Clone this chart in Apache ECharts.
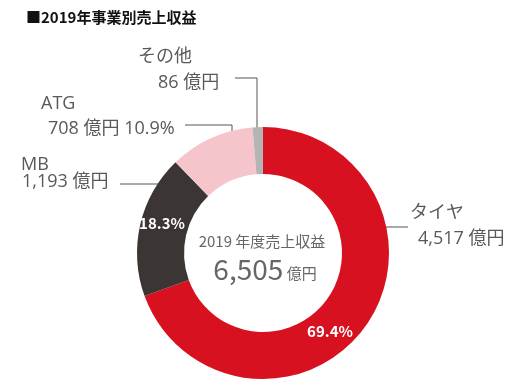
<!DOCTYPE html>
<html>
<head>
<meta charset="utf-8">
<script src="https://cdn.jsdelivr.net/npm/echarts@6/dist/echarts.min.js"></script>
<style>
html,body{margin:0;padding:0;background:#fff;}
#chart{width:523px;height:390px;}
</style>
</head>
<body>
<div id="chart"></div>
<script>
// ---- data ----
var categories = ['タイヤ', 'MB', 'ATG', 'その他'];
var values = [4517, 1193, 708, 86];
var showPercentOutside = [false, false, true, false];
var showPercentInside = [true, true, false, false];
var titleText = '■2019年事業別売上収益';
var centerCaption = '2019 年度売上収益';
var centerTotal = '6,505';
var unitText = '億円';

// ---- styles / layout ----
var colors = ['#D7111F', '#3B3634', '#F6C4CB', '#B5B5B5'];
var FONT = '"Noto Sans CJK JP", "Noto Sans", sans-serif';
var LABEL_FONT = '"Open Sans", "Noto Sans CJK JP", sans-serif';
var textGray = '#595959';
var center = [263, 253];
var radius = [79, 126];

var total = values.reduce(function (a, b) { return a + b; }, 0);
function pct(v) { return (v / total * 100).toFixed(1) + '%'; }
function fmtNum(v) { return v.toLocaleString('en-US'); }

// outside label layouts: x, y (top-left of label block), line height, 2nd line indent, label line
var outLayout = [
  { x: 410, y: 200, lh: 26, pad: 8, line: [[363, 227], [385, 227], [408, 227]] },
  { x: 21, y: 156, lh: 17, pad: 1, line: [[158, 184], [140, 184], [120, 184]] },
  { x: 41, y: 91, lh: 25, pad: 7, line: [[232, 140], [232, 125], [185, 125]] },
  { x: 138, y: 44, lh: 26, pad: 20, line: [[257, 130], [257, 78], [235, 78]] }
];
var inLayout = [
  { x: 330, y: 331 },
  { x: 162, y: 223 }
];

var outerData = categories.map(function (c, i) {
  var L = outLayout[i];
  var second = fmtNum(values[i]) + ' ' + unitText + (showPercentOutside[i] ? ' ' + pct(values[i]) : '');
  return {
    name: c,
    value: values[i],
    itemStyle: { color: colors[i] },
    label: {
      formatter: '{a|' + c + '}\n{b|' + second + '}',
      rich: {
        a: { fontSize: 18, fontFamily: LABEL_FONT, color: textGray, lineHeight: L.lh },
        b: { fontSize: 18, fontFamily: LABEL_FONT, color: textGray, lineHeight: L.lh, padding: [0, 0, 0, L.pad] }
      }
    }
  };
});

var innerData = categories.map(function (c, i) {
  return {
    name: c,
    value: values[i],
    label: { show: showPercentInside[i], formatter: pct(values[i]) }
  };
});

var chart = echarts.init(document.getElementById('chart'), null, { renderer: 'canvas' });
chart.setOption({
  animation: false,
  backgroundColor: '#fff',
  title: {
    text: titleText,
    left: 21,
    top: 5,
    textStyle: { fontSize: 15, fontWeight: 'bold', color: '#111', fontFamily: FONT }
  },
  graphic: [
    {
      type: 'text',
      x: 262, y: 241,
      style: {
        text: centerCaption,
        font: '15px ' + FONT,
        fill: '#666',
        align: 'center',
        verticalAlign: 'middle'
      }
    },
    {
      type: 'text',
      x: 265, y: 269,
      style: {
        text: '{big|' + centerTotal + '}{unit| ' + unitText + '}',
        align: 'center',
        verticalAlign: 'middle',
        rich: {
          big: { fontSize: 28, fontFamily: FONT, fill: '#666', color: '#666' },
          unit: { fontSize: 15, fontFamily: FONT, fill: '#666', color: '#666', padding: [8, 0, 0, 0] }
        }
      }
    }
  ],
  series: [
    {
      type: 'pie',
      center: center,
      radius: radius,
      startAngle: 90,
      clockwise: true,
      avoidLabelOverlap: false,
      silent: true,
      emphasis: { disabled: true },
      label: { show: true, position: 'outside' },
      labelLine: { show: true, lineStyle: { color: '#555', width: 1 } },
      labelLayout: function (p) {
        var L = outLayout[p.dataIndex];
        return {
          x: L.x, y: L.y,
          align: 'left', verticalAlign: 'top',
          labelLinePoints: L.line
        };
      },
      data: outerData
    },
    {
      type: 'pie',
      center: center,
      radius: radius,
      startAngle: 90,
      clockwise: true,
      silent: true,
      emphasis: { disabled: true },
      itemStyle: { color: 'rgba(0,0,0,0)' },
      label: {
        position: 'inside',
        color: '#fff',
        fontSize: 15,
        fontWeight: 'bold',
        fontFamily: FONT
      },
      labelLine: { show: false },
      labelLayout: function (p) {
        var L = inLayout[p.dataIndex];
        if (!L) return {};
        return { x: L.x, y: L.y, align: 'center', verticalAlign: 'middle' };
      },
      data: innerData
    }
  ]
});
</script>
</body>
</html>
